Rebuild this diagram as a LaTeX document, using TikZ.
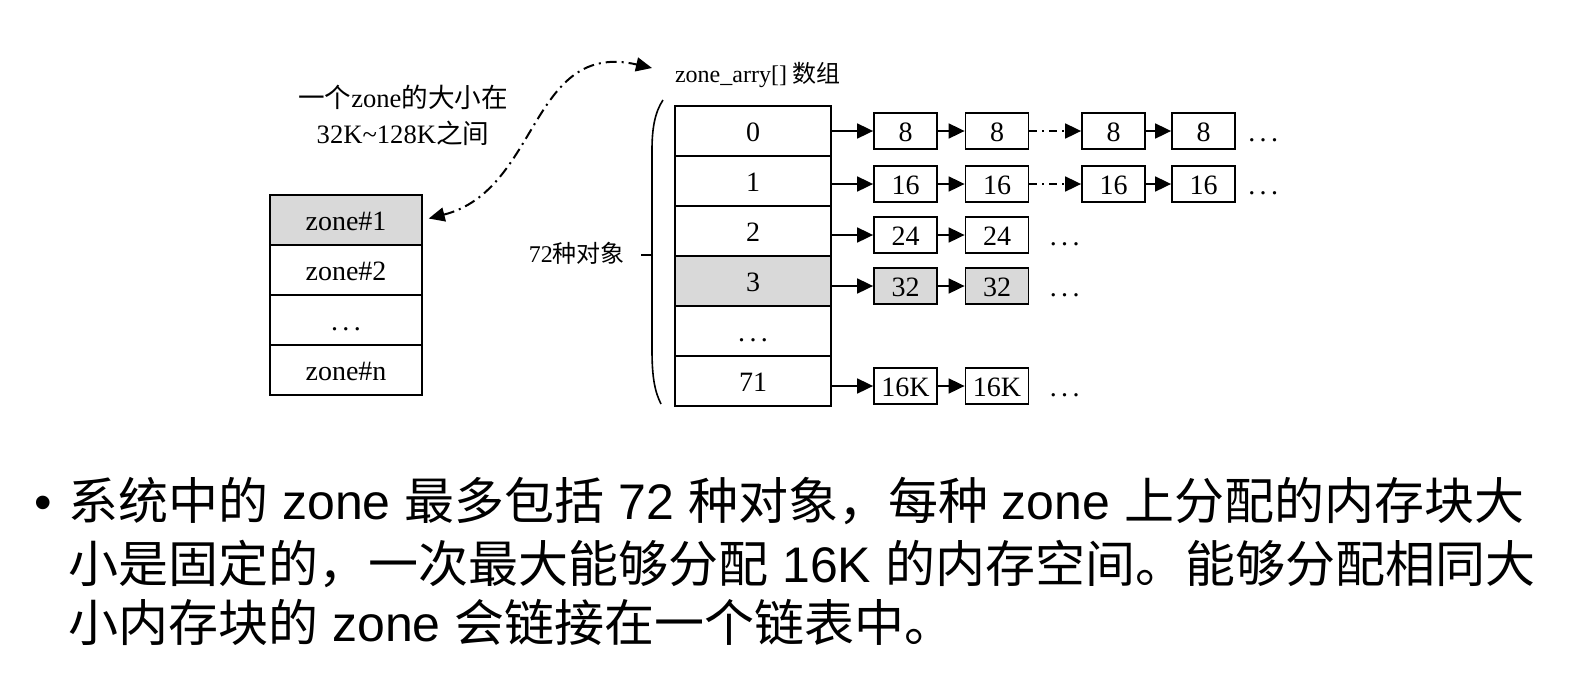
\documentclass[tikz,border=0pt]{standalone}
\usepackage{fontspec}
\setmainfont{Liberation Serif}
\newfontfamily\cjk{Noto Sans CJK SC}
\newfontfamily\slidefont{Liberation Sans}
\usetikzlibrary{arrows.meta}
\definecolor{cellgray}{RGB}{217,217,217}
\newcommand{\spdots}{.\hspace{2.2pt}.\hspace{2.2pt}.}

\begin{document}
\begin{tikzpicture}[x=0.5pt, y=-0.5pt,
    cell/.style={draw, line width=0.9pt, minimum width=78pt, minimum height=25pt, inner sep=0pt,
        text height=10pt, text depth=0pt, font=\fontsize{14}{16}\selectfont},
    zcell/.style={cell, minimum width=76pt},
    link/.style={cell, minimum width=31.5pt, minimum height=18pt},
    more/.style={anchor=base west, inner sep=0pt, font=\fontsize{14}{16}\selectfont},
    plain/.style={},
    hit/.style={fill=cellgray},
    nxt/.style={line width=0.9pt, -{Triangle[length=8pt,width=7.5pt]}},
    skip/.style={nxt, dash pattern=on 4pt off 2.5pt on 1pt off 2.5pt}]
    \useasboundingbox (0,0) rectangle (1592,681);

    % Zones
    \foreach \idx/\lab/\sty in {1/zone\#1/hit, 2/zone\#2/plain, 3/\spdots/plain, 4/zone\#n/plain}
        \node[zcell,\sty] (z\idx) at (346,170+\idx*50) {\lab};
    \node[align=center, font=\fontsize{13.3}{18}\selectfont] (note) at (403,115)
        {{\cjk 一个}zone{\cjk 的大小在}\\32K\textasciitilde128K{\cjk 之间}};

    % zone_arry[]
    \node[anchor=west, font=\fontsize{12}{14}\selectfont] (ttl) at (668,75) {zone\_arry[] {\cjk 数组}};
    \foreach \idx/\lab/\sty in {0/0/plain, 1/1/plain, 2/2/plain, 3/3/hit, 4/\spdots/plain, 5/71/plain}
        \node[cell,\sty] (a\idx) at (753,131+\idx*50) {\lab};

    % Brace
    \draw[line width=0.8pt] (663,100) .. controls (655,112) and (652,128) .. (652,150)
        -- (652,350) .. controls (652,378) and (655,392) .. (661,404);
    \draw[line width=0.8pt] (641,255) -- (651,255);
    \node[anchor=east, font=\fontsize{12}{14}\selectfont] (cnt) at (632,253) {72{\cjk 种对象}};

    % Zone size link
    \coordinate (tip) at (652,68);
    \draw[line width=1pt, dash pattern=on 5.5pt off 2.5pt on 1pt off 2.5pt,
        {Triangle[length=8pt,width=7pt]}-{Triangle[length=8pt,width=7pt]}, shorten <=3pt]
        (z1.east) .. controls (540,190) and (530,40) .. (tip);

    % Free lists
    \foreach \r/\v/\yy in {0/8/131, 1/16/184} {
        \node[link] (c\r-1) at (905.5,\yy) {\v};
        \node[link] (c\r-2) at (997,\yy) {\v};
        \node[link] (c\r-3) at (1113.5,\yy) {\v};
        \node[link] (c\r-4) at (1203.5,\yy) {\v};
        \node[more] (m\r) at ([xshift=6pt]c\r-4.base east) {\spdots};
        \draw[nxt] (a\r.east |- c\r-1) -- (c\r-1);
        \draw[nxt] (c\r-1) -- (c\r-2);
        \draw[skip] (c\r-2) -- (c\r-3);
        \draw[nxt] (c\r-3) -- (c\r-4);
    }
    \foreach \r/\v/\yy/\sty in {2/24/235/plain, 3/32/286/hit, 5/16K/386/plain} {
        \node[link,\sty] (c\r-1) at (905.5,\yy) {\v};
        \node[link,\sty] (c\r-2) at (997,\yy) {\v};
        \node[more] (m\r) at ([xshift=10pt]c\r-2.base east) {\spdots};
        \draw[nxt] (a\r.east |- c\r-1) -- (c\r-1);
        \draw[nxt] (c\r-1) -- (c\r-2);
    }

    % Bullet text
    \begin{scope}[every node/.style={anchor=base west, inner sep=0pt, font=\slidefont\fontsize{25}{31}\selectfont}]
        \node[anchor=base] (bul) at (43,519) {•};
        \node (l1) at (68,519) {{\cjk 系统中的} zone {\cjk 最多包括} 72 {\cjk 种对象，每种} zone {\cjk 上分配的内存块大}};
        \node (l2) at (68,582) {{\cjk 小是固定的，一次最大能够分配} 16K {\cjk 的内存空间。能够分配相同大}};
        \node (l3) at (68,641) {{\cjk 小内存块的} zone {\cjk 会链接在一个链表中。}};
    \end{scope}
\end{tikzpicture}
\end{document}
